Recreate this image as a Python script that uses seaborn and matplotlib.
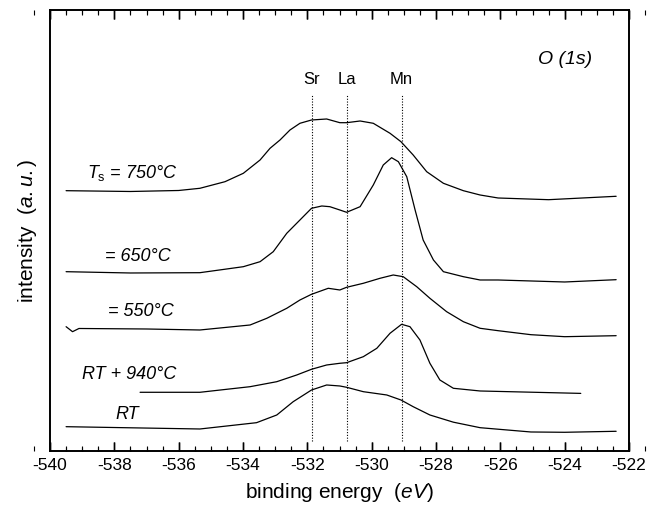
import numpy as np
import pandas as pd
import matplotlib
matplotlib.use("Agg")
import matplotlib.pyplot as plt
from matplotlib.ticker import MultipleLocator
import seaborn as sns

# O(1s) spectra, binding energy (eV) vs intensity (a.u., already offset)
e_750 = [-539.5, -537.5, -536.0, -535.34, -534.56, -533.99, -533.47, -533.16, -532.85, -532.54,
         -532.23, -531.87, -531.4, -530.99, -530.78, -530.36, -529.95, -529.43, -529.09, -528.71,
         -528.29, -527.77, -527.15, -526.63, -526.07, -524.5, -522.4]
i_750 = [26.03, 25.95, 26.05, 26.27, 26.93, 27.77, 29.1, 30.27, 31.1, 32.1,
         32.77, 33.1, 33.2, 32.83, 32.83, 33.0, 32.77, 31.77, 30.93, 29.6,
         27.93, 26.77, 26.03, 25.6, 25.3, 25.13, 25.47]

e_650 = [-539.5, -537.5, -535.34, -533.99, -533.47, -533.06, -532.64, -532.23, -531.87, -531.55,
         -531.3, -530.99, -530.78, -530.36, -529.95, -529.64, -529.38, -529.17, -528.91, -528.65,
         -528.4, -528.08, -527.77, -527.15, -526.63, -526.07, -524.0, -522.4]
i_650 = [17.93, 17.8, 17.83, 18.43, 18.93, 19.93, 21.77, 23.1, 24.27, 24.5,
         24.43, 24.1, 23.87, 24.43, 26.6, 28.6, 29.33, 28.93, 27.43, 24.1,
         21.1, 19.1, 17.93, 17.43, 17.1, 17.1, 16.9, 17.13]

e_550 = [-539.5, -539.3, -539.1, -537.0, -535.34, -533.78, -533.26, -532.64, -532.23, -531.87,
         -531.35, -530.99, -530.78, -530.26, -529.74, -529.33, -529.02, -528.6, -528.19, -527.67,
         -527.15, -526.63, -526.07, -525.05, -524.0, -522.4]
i_550 = [12.43, 11.93, 12.25, 12.2, 12.1, 12.6, 13.27, 14.27, 15.1, 15.67,
         16.27, 16.1, 16.37, 16.77, 17.27, 17.6, 17.43, 16.43, 15.27, 13.93,
         12.93, 12.27, 12.03, 11.63, 11.43, 11.53]

e_940 = [-537.2, -535.34, -533.78, -532.95, -532.33, -531.87, -531.4, -530.99, -530.78, -530.26,
         -529.84, -529.43, -529.07, -528.81, -528.5, -528.19, -527.88, -527.46, -526.63, -523.5]
i_940 = [5.87, 5.87, 6.43, 6.93, 7.6, 8.17, 8.6, 8.77, 8.83, 9.43,
         10.27, 11.77, 12.67, 12.43, 11.1, 8.77, 7.1, 6.27, 6.0, 5.76]

e_rt = [-539.5, -535.34, -533.58, -532.95, -532.44, -531.87, -531.4, -530.99, -530.78, -530.26,
        -529.53, -529.09, -528.71, -528.19, -527.46, -526.63, -525.05, -524.0, -522.4]
i_rt = [2.43, 2.2, 2.83, 3.6, 4.93, 6.1, 6.6, 6.5, 6.37, 5.93,
        5.6, 5.1, 4.43, 3.6, 2.88, 2.33, 1.9, 1.87, 1.97]

curve_names = ["750", "650", "550", "RT+940", "RT"]
curve_labels = [r"$T_\mathrm{s}$ = 750°C", "= 650°C", "= 550°C", "RT + 940°C", "RT"]
label_x = [-538.85, -538.29, -538.2, -539.0, -537.98]
label_y = [27.8, 19.43, 13.93, 7.6, 3.6]

ref_names = ["Sr", "La", "Mn"]
ref_energy = [-531.87, -530.78, -529.07]

sns.set_style("ticks")
plt.rcParams['font.family'] = ['Liberation Sans', 'DejaVu Sans']
plt.rcParams['mathtext.fontset'] = 'custom'
plt.rcParams['mathtext.it'] = 'Liberation Sans:italic'
plt.rcParams['mathtext.rm'] = 'Liberation Sans'
plt.rcParams['axes.unicode_minus'] = False
plt.rcParams['text.color'] = 'black'
plt.rcParams['axes.labelcolor'] = 'black'
plt.rcParams['axes.edgecolor'] = 'black'
plt.rcParams['axes.linewidth'] = 1.4
plt.rcParams['xtick.color'] = 'black'
plt.rcParams['xtick.labelcolor'] = 'black'
plt.rcParams['xtick.direction'] = 'in'
plt.rcParams['xtick.top'] = True
plt.rcParams['xtick.bottom'] = True
plt.rcParams['xtick.major.size'] = 6.5
plt.rcParams['xtick.minor.size'] = 3.2
plt.rcParams['xtick.major.width'] = 1.0
plt.rcParams['xtick.minor.width'] = 0.8
plt.rcParams['xtick.labelsize'] = 12.5
plt.rcParams['xtick.major.pad'] = 5
plt.rcParams['ytick.left'] = False

# one long table, one seaborn call
parts = []
for name, e, i in zip(curve_names, [e_750, e_650, e_550, e_940, e_rt],
                      [i_750, i_650, i_550, i_940, i_rt]):
    parts.append(pd.DataFrame({"energy": e, "intensity": i, "curve": name}))
df = pd.concat(parts, ignore_index=True)

fig = plt.figure(figsize=(6.47, 5.15), dpi=100)
ax = fig.add_axes([0.0773, 0.1243, 0.8949, 0.8563])

sns.lineplot(data=df, x="energy", y="intensity", units="curve", estimator=None,
             ax=ax, color="black", linewidth=0.9, sort=False)

for name, e in zip(ref_names, ref_energy):
    ax.plot([e, e], [1.0, 35.7], color="black", linestyle=(0, (1, 1.5)), linewidth=0.8)
    ax.text(e, 37.1, name, ha="center", va="center", fontsize=12)

for lab, x, y in zip(curve_labels, label_x, label_y):
    ax.text(x, y, lab, ha="left", va="center", fontsize=13, style="italic")

ax.text(-524.0, 39.1, "O (1s)", ha="center", va="center", fontsize=14, style="italic")

ax.set_xlim(-540, -522)
ax.set_ylim(0, 44.1)
ax.xaxis.set_major_locator(MultipleLocator(2))
ax.xaxis.set_minor_locator(MultipleLocator(0.5))
ax.set_yticks([])
ax.set_axisbelow(False)

# inward tick marks on bottom and top, at the locator positions
trans = ax.get_xaxis_transform()
major_locs = ax.xaxis.get_majorticklocs()
minor_locs = ax.xaxis.get_minorticklocs()
ax.vlines(major_locs, 0, 0.021, transform=trans, color="black", linewidth=1.0, clip_on=False, zorder=4)
ax.vlines(major_locs, 1 - 0.021, 1, transform=trans, color="black", linewidth=1.0, clip_on=False, zorder=4)
ax.vlines(minor_locs, 0, 0.011, transform=trans, color="black", linewidth=0.8, clip_on=False, zorder=4)
ax.vlines(minor_locs, 1 - 0.011, 1, transform=trans, color="black", linewidth=0.8, clip_on=False, zorder=4)

ax.set_xlabel(r"binding energy  ($\mathit{eV}$)", fontsize=15, labelpad=6)
ax.set_ylabel(r"intensity  ($\mathit{a.u.}$)", fontsize=15, labelpad=8)

fig.savefig("out.png", dpi=100)
